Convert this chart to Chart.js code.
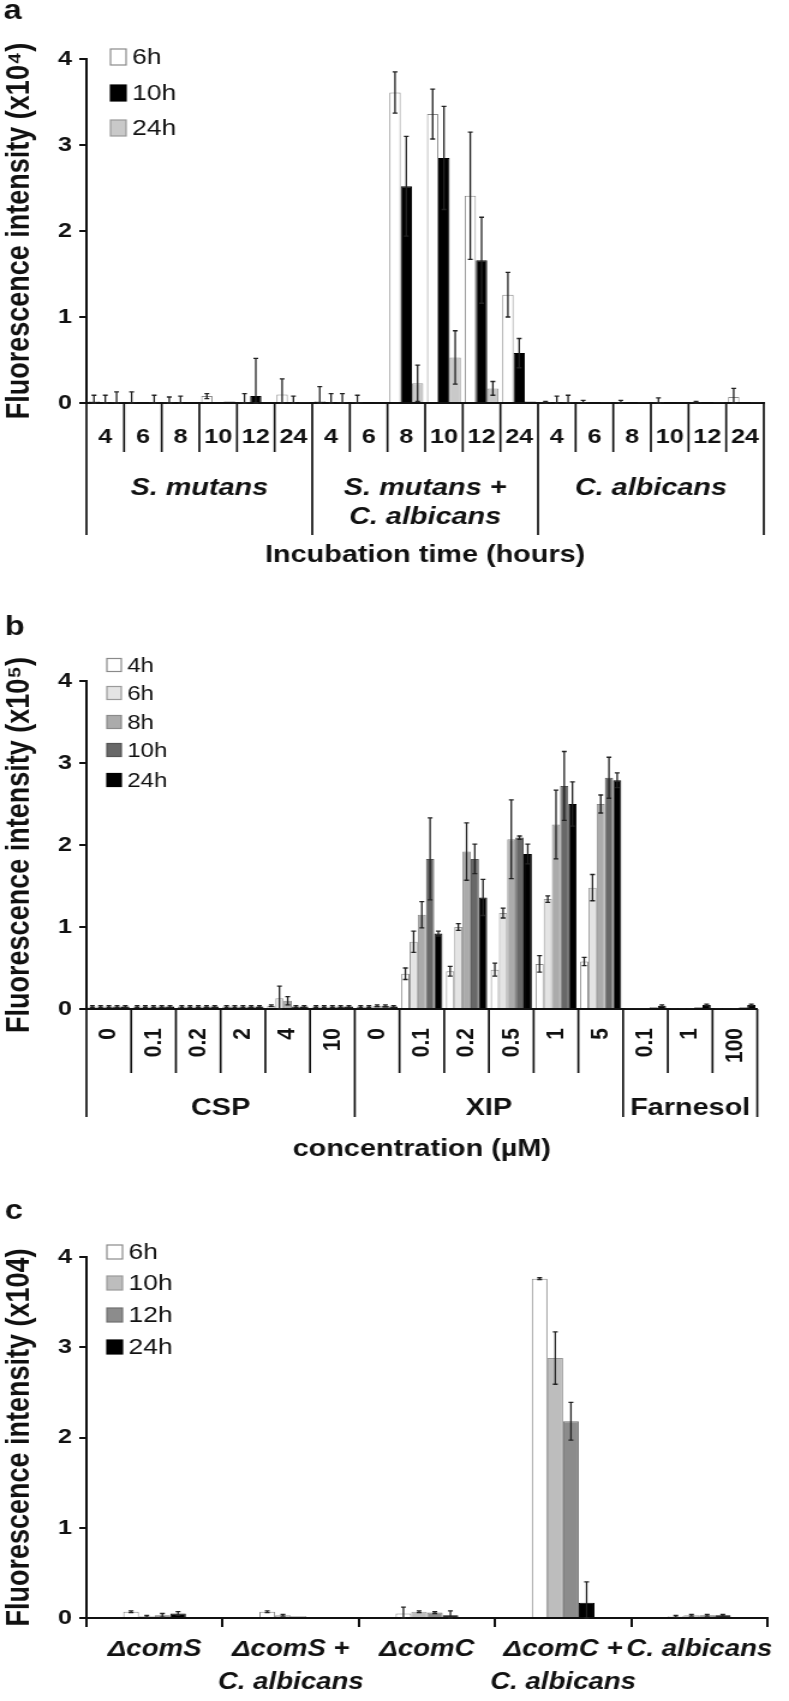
<!DOCTYPE html>
<html>
<head>
<meta charset="utf-8">
<script src="https://cdn.jsdelivr.net/npm/chart.js@4.4.1/dist/chart.umd.min.js"></script>
<style>
  body { margin: 0; background: #fff; }
  .panel { position: absolute; left: 0; width: 789px; }
</style>
</head>
<body>
<canvas id="chartA" class="panel" width="657" height="590" style="top:0;height:590px"></canvas>
<canvas id="chartB" class="panel" width="657" height="580" style="top:590px;height:580px"></canvas>
<canvas id="chartC" class="panel" width="657" height="531" style="top:1170px;height:531px"></canvas>
<script>
// ---- panel a : incubation time ----
const hoursA = ["4", "6", "8", "10", "12", "24", "4", "6", "8", "10", "12", "24", "4", "6", "8", "10", "12", "24"];
const groupNamesA = [["S. mutans"], ["S. mutans +", "C. albicans"], ["C. albicans"]];
const groupSizesA = [6, 6, 6];
const a6h = [0.02, 0.01, 0.01, 0.08, 0.01, 0.1, 0.02, 0.01, 3.61, 3.36, 2.41, 1.26, 0.01, 0.01, 0.01, 0.01, 0.01, 0.07];
const a6hErr = [0.07, 0.12, 0.06, 0.03, 0.1, 0.18, 0.17, 0.08, 0.24, 0.29, 0.74, 0.26, 0.01, 0.02, 0.02, 0.05, 0.01, 0.1];
const a10h = [0.01, 0, 0.01, 0.01, 0.08, 0.01, 0.01, 0.01, 2.52, 2.85, 1.66, 0.58, 0.01, 0.01, 0.01, 0.01, 0.01, 0.01];
const a10hErr = [0.08, 0, 0.07, 0, 0.44, 0.07, 0.1, 0, 0.58, 0.6, 0.5, 0.17, 0.07, 0, 0, 0, 0, 0];
const a24h = [0.01, 0.01, 0, 0.02, 0, 0.01, 0.01, 0, 0.23, 0.53, 0.17, 0.02, 0.01, 0.01, 0.01, 0, 0.01, 0.01];
const a24hErr = [0.12, 0.08, 0, 0, 0, 0, 0.1, 0, 0.21, 0.31, 0.08, 0, 0.08, 0, 0, 0, 0, 0];

// ---- panel b : concentration ----
const concB = ["0", "0.1", "0.2", "2", "4", "10", "0", "0.1", "0.2", "0.5", "1", "5", "0.1", "1", "100"];
const groupNamesB = [["CSP"], ["XIP"], ["Farnesol"]];
const groupSizesB = [6, 6, 3];
const b4h = [0.03, 0.03, 0.03, 0.03, 0.04, 0.03, 0.03, 0.43, 0.46, 0.48, 0.55, 0.58, 0.01, 0.01, 0.01];
const b4hErr = [0.01, 0.01, 0.01, 0.01, 0.01, 0.01, 0.01, 0.07, 0.06, 0.08, 0.1, 0.05, 0, 0, 0];
const b6h = [0.03, 0.03, 0.03, 0.03, 0.13, 0.03, 0.03, 0.82, 1.0, 1.17, 1.34, 1.48, 0.01, 0.01, 0.01];
const b6hErr = [0.01, 0.01, 0.01, 0.01, 0.15, 0.01, 0.01, 0.13, 0.04, 0.06, 0.04, 0.16, 0, 0, 0];
const b8h = [0.03, 0.03, 0.03, 0.03, 0.1, 0.03, 0.04, 1.15, 1.92, 2.07, 2.25, 2.5, 0.01, 0.01, 0.01];
const b8hErr = [0.01, 0.01, 0.01, 0.01, 0.05, 0.01, 0.01, 0.16, 0.35, 0.48, 0.42, 0.11, 0, 0, 0];
const b10h = [0.03, 0.03, 0.03, 0.03, 0.03, 0.03, 0.04, 1.83, 1.83, 2.09, 2.72, 2.82, 0.02, 0.02, 0.02];
const b10hErr = [0.01, 0.01, 0.01, 0.01, 0.01, 0.01, 0.01, 0.5, 0.18, 0.02, 0.42, 0.25, 0, 0, 0];
const b24h = [0.03, 0.03, 0.03, 0.03, 0.03, 0.03, 0.03, 0.92, 1.36, 1.89, 2.5, 2.79, 0.04, 0.05, 0.05];
const b24hErr = [0.01, 0.01, 0.01, 0.01, 0.01, 0.01, 0.01, 0.03, 0.22, 0.12, 0.27, 0.09, 0.01, 0.01, 0.01];

// ---- panel c : mutants ----
const strainsC = [["ΔcomS"], ["ΔcomS +", "C. albicans"], ["ΔcomC"], ["ΔcomC +", "C. albicans"], ["C. albicans"]];
const c6h = [0.07, 0.07, 0.05, 3.76, 0.02];
const c6hErr = [0.01, 0.01, 0.07, 0.01, 0.01];
const c10h = [0.02, 0.03, 0.07, 2.88, 0.03];
const c10hErr = [0.01, 0.01, 0.01, 0.29, 0.01];
const c12h = [0.03, 0.02, 0.06, 2.18, 0.03];
const c12hErr = [0.02, 0, 0.01, 0.21, 0.01];
const c24h = [0.05, 0, 0.03, 0.17, 0.03];
const c24hErr = [0.02, 0, 0.05, 0.23, 0.01];

const yTicks = [0, 1, 2, 3, 4];

Chart.defaults.font.family = "Liberation Sans";
Chart.defaults.color = "#111";

// error bars, read from dataset.errors
const errorBars = {
  id: "errorBars",
  afterDatasetsDraw(chart) {
    const ctx = chart.ctx, y = chart.scales.y;
    ctx.save();
    ctx.strokeStyle = "#222";
    ctx.lineWidth = 1.3;
    chart.data.datasets.forEach((ds, di) => {
      if (!ds.errors) return;
      chart.getDatasetMeta(di).data.forEach((bar, i) => {
        const e = ds.errors[i];
        if (!e) return;
        const v = ds.data[i];
        const top = y.getPixelForValue(v + e);
        const bot = y.getPixelForValue(Math.max(v - e, 0));
        ctx.beginPath();
        ctx.moveTo(bar.x, top); ctx.lineTo(bar.x, bot);
        ctx.moveTo(bar.x - 2, top); ctx.lineTo(bar.x + 2, top);
        ctx.moveTo(bar.x - 2, bot); ctx.lineTo(bar.x + 2, bot);
        ctx.stroke();
      });
    });
    ctx.restore();
  }
};

// legend box in the top left corner
function legendPlugin(x, rows, box, font) {
  return {
    id: "cornerLegend",
    afterDraw(chart) {
      const ctx = chart.ctx;
      ctx.save();
      ctx.font = font;
      ctx.textBaseline = "middle";
      chart.data.datasets.forEach((ds, i) => {
        const cy = rows[i];
        ctx.fillStyle = ds.backgroundColor;
        ctx.fillRect(x, cy - box[1] / 2, box[0], box[1]);
        ctx.strokeStyle = ds.borderColor;
        ctx.lineWidth = 1.2;
        ctx.strokeRect(x, cy - box[1] / 2, box[0], box[1]);
        ctx.fillStyle = "#111";
        ctx.fillText(ds.label, x + box[0] + 5, cy + 1);
      });
      ctx.restore();
    }
  };
}

// panel letter
function letterPlugin(text, x, y) {
  return {
    id: "letter",
    afterDraw(chart) {
      const ctx = chart.ctx;
      ctx.save();
      ctx.font = "bold 27px 'Liberation Sans'";
      ctx.fillStyle = "#111";
      ctx.fillText(text, x, y);
      ctx.restore();
    }
  };
}

// category dividers under the axis plus group names
function groupPlugin(names, sizes, shortLen, longLen, labelY, lineGap, font) {
  return {
    id: "groups",
    afterDraw(chart) {
      const ctx = chart.ctx, xs = chart.scales.x, y0 = xs.top;
      const n = xs.ticks.length;
      const ends = [];
      let acc = 0;
      ends.push(0);
      sizes.forEach(s => { acc += s; ends.push(acc); });
      ctx.save();
      ctx.strokeStyle = "#111";
      ctx.lineWidth = 1.7;
      for (let i = 0; i <= n; i++) {
        const px = xs.getPixelForValue(i - 0.5);
        const len = ends.includes(i) ? longLen : shortLen;
        ctx.beginPath();
        ctx.moveTo(px, y0);
        ctx.lineTo(px, y0 + len);
        ctx.stroke();
      }
      ctx.font = font;
      ctx.fillStyle = "#111";
      ctx.textAlign = "center";
      ctx.textBaseline = "middle";
      names.forEach((lines, g) => {
        const cx = (xs.getPixelForValue(ends[g] - 0.5) + xs.getPixelForValue(ends[g + 1] - 0.5)) / 2;
        lines.forEach((t, k) => ctx.fillText(t, cx, labelY + k * lineGap));
      });
      ctx.restore();
    }
  };
}

function yAxis(title, width) {
  return {
    min: 0,
    max: 4,
    afterBuildTicks: (s) => { s.ticks = yTicks.map(v => ({ value: v })); },
    afterFit: (s) => { s.width = width; },
    border: { color: "#111", width: 2 },
    grid: { drawOnChartArea: false, drawTicks: true, tickLength: 6, color: "#111", lineWidth: 2 },
    ticks: { font: { size: 21, weight: "bold" }, padding: 6, color: "#111" },
    title: { display: true, text: title, font: { size: 27, weight: "bold" }, padding: { top: 0, bottom: 0 }, color: "#111" }
  };
}

function ds(label, data, errors, fill, edge) {
  return { label, data, errors, backgroundColor: fill, borderColor: edge, borderWidth: 1, borderSkipped: "bottom" };
}

// panel a
new Chart(document.getElementById("chartA"), {
  type: "bar",
  data: {
    labels: hoursA,
    datasets: [
      ds("6h", a6h, a6hErr, "#ffffff", "#8a8a8a"),
      ds("10h", a10h, a10hErr, "#000000", "#000000"),
      ds("24h", a24h, a24hErr, "#c9c9c9", "#999999")
    ]
  },
  options: {
    responsive: false,
    animation: false,
    layout: { padding: { top: 59, right: 21, left: 0, bottom: 0 } },
    datasets: { bar: { categoryPercentage: 0.9, barPercentage: 1.0 } },
    plugins: { legend: { display: false }, tooltip: { enabled: false } },
    scales: {
      x: {
        afterFit: (s) => { s.height = 187; },
        border: { color: "#111", width: 2 },
        grid: { drawOnChartArea: false, drawTicks: false },
        ticks: { font: { size: 21, weight: "bold" }, padding: 22, maxRotation: 0, autoSkip: false, color: "#111" },
        title: { display: true, text: "Incubation time (hours)", font: { size: 24, weight: "bold" }, padding: { top: 0, bottom: 20 }, color: "#111" }
      },
      y: yAxis("Fluorescence intensity (x10\u2074)", 72)
    }
  },
  plugins: [
    errorBars,
    legendPlugin(92, [57, 93, 128], [13, 16], "22px 'Liberation Sans'"),
    letterPlugin("a", 3, 19),
    groupPlugin(groupNamesA, groupSizesA, 49, 132, 488, 29, "italic bold 24px 'Liberation Sans'")
  ]
});

// panel b
new Chart(document.getElementById("chartB"), {
  type: "bar",
  data: {
    labels: concB,
    datasets: [
      ds("4h", b4h, b4hErr, "#ffffff", "#8a8a8a"),
      ds("6h", b6h, b6hErr, "#e4e4e4", "#9a9a9a"),
      ds("8h", b8h, b8hErr, "#ababab", "#8a8a8a"),
      ds("10h", b10h, b10hErr, "#686868", "#555555"),
      ds("24h", b24h, b24hErr, "#000000", "#000000")
    ]
  },
  options: {
    responsive: false,
    animation: false,
    layout: { padding: { top: 91, right: 26, left: 0, bottom: 0 } },
    datasets: { bar: { categoryPercentage: 0.92, barPercentage: 1.0 } },
    plugins: { legend: { display: false }, tooltip: { enabled: false } },
    scales: {
      x: {
        afterFit: (s) => { s.height = 161; },
        border: { color: "#111", width: 2 },
        grid: { drawOnChartArea: false, drawTicks: false },
        ticks: { font: { size: 21, weight: "bold" }, padding: 19, minRotation: 90, maxRotation: 90, autoSkip: false, color: "#111" },
        title: { display: true, text: "concentration (\u00b5M)", font: { size: 24, weight: "bold" }, padding: { top: 0, bottom: 6 }, color: "#111" }
      },
      y: yAxis("Fluorescence intensity (x10\u2075)", 72)
    }
  },
  plugins: [
    errorBars,
    legendPlugin(89, [75, 103, 132, 160, 190], [12, 13], "20px 'Liberation Sans'"),
    letterPlugin("b", 4, 45),
    groupPlugin(groupNamesB, groupSizesB, 64, 108, 518, 29, "bold 24px 'Liberation Sans'")
  ]
});

// panel c
new Chart(document.getElementById("chartC"), {
  type: "bar",
  data: {
    labels: strainsC,
    datasets: [
      ds("6h", c6h, c6hErr, "#ffffff", "#8a8a8a"),
      ds("10h", c10h, c10hErr, "#bdbdbd", "#999999"),
      ds("12h", c12h, c12hErr, "#8c8c8c", "#707070"),
      ds("24h", c24h, c24hErr, "#000000", "#000000")
    ]
  },
  options: {
    responsive: false,
    animation: false,
    layout: { padding: { top: 87, right: 18, left: 0, bottom: 0 } },
    datasets: { bar: { categoryPercentage: 0.46, barPercentage: 1.0 } },
    plugins: { legend: { display: false }, tooltip: { enabled: false } },
    scales: {
      x: {
        afterFit: (s) => { s.height = 83; },
        border: { color: "#111", width: 2 },
        grid: { drawOnChartArea: false, drawTicks: true, tickLength: 9, color: "#111", lineWidth: 2 },
        ticks: { font: { size: 23, weight: "bold", style: "italic", lineHeight: 1.45 }, padding: 6, maxRotation: 0, autoSkip: false, color: "#111" }
      },
      y: yAxis("Fluorescence intensity (x104)", 72)
    }
  },
  plugins: [
    errorBars,
    legendPlugin(89, [82, 113, 145, 177], [13, 14], "22px 'Liberation Sans'"),
    letterPlugin("c", 4, 49)
  ]
});
</script>
</body>
</html>
